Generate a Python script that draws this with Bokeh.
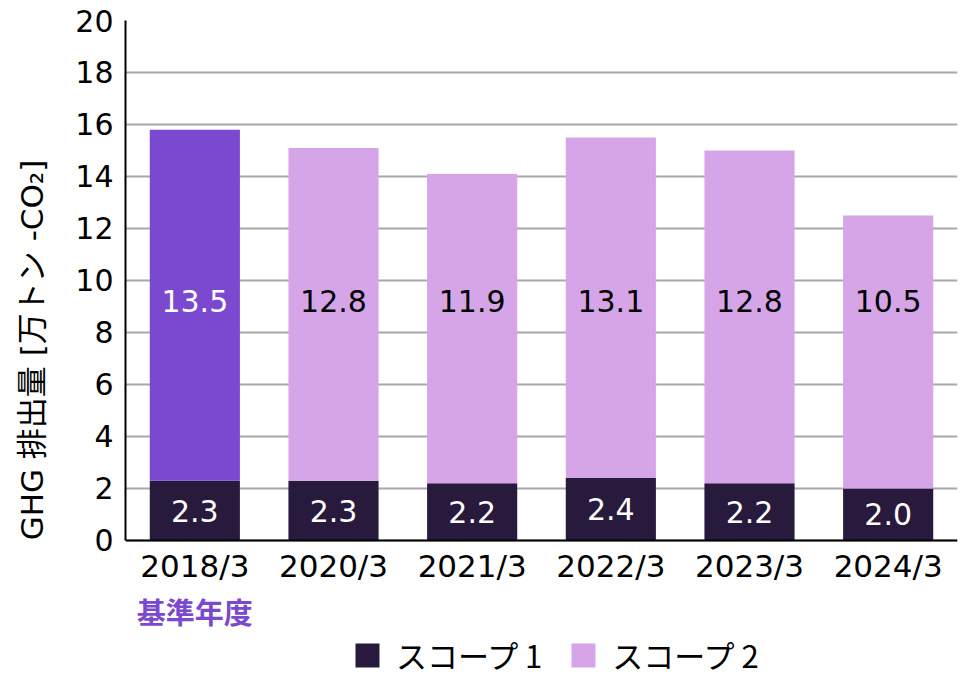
from bokeh.plotting import figure
from bokeh.models import (ColumnDataSource, Legend, LegendItem, FactorRange,
                          Span, FixedTicker)
from bokeh.embed import file_html
from bokeh.resources import INLINE

categories = ["2018/3", "2020/3", "2021/3", "2022/3", "2023/3", "2024/3"]
scope1 = [2.3, 2.3, 2.2, 2.4, 2.2, 2.0]
scope2 = [13.5, 12.8, 11.9, 13.1, 12.8, 10.5]
y_ticks = [0, 2, 4, 6, 8, 10, 12, 14, 16, 18, 20]
base_year = "2018/3"
base_year_note = "基準年度"
series_names = ["スコープ 1", "スコープ 2"]

C_S1 = "#271a3c"
C_BASE = "#7b48d0"
C_S2 = "#d6a5e8"
JP = "Noto Sans CJK JP"
NUM = "DejaVu Sans"
MIX = "DejaVu Sans, Noto Sans CJK JP"

Y_MIN, Y_MAX = -5.35, 20     # frame extends below 0 to hold category labels and legend
CAT_LABEL_Y = -0.97
NOTE_Y = -2.72
S2_LABEL_Y = 9.2

totals = [a + b for a, b in zip(scope1, scope2)]
s2_colors = [C_BASE if c == base_year else C_S2 for c in categories]
s2_text_colors = ["white" if c == base_year else "black" for c in categories]

src = ColumnDataSource(dict(
    cat=categories,
    s1=scope1,
    s2=scope2,
    top=totals,
    zero=[0] * len(categories),
    s1_mid=[v / 2 for v in scope1],
    s2_y=[S2_LABEL_Y] * len(categories),
    cat_y=[CAT_LABEL_Y] * len(categories),
    s1_txt=[f"{v:.1f}" for v in scope1],
    s2_txt=[f"{v:.1f}" for v in scope2],
    s2_col=s2_colors,
    s2_tcol=s2_text_colors,
))
note_src = ColumnDataSource(dict(cat=[base_year], y=[NOTE_Y], txt=[base_year_note]))

p = figure(
    x_range=FactorRange(*categories, range_padding=0),
    y_range=(Y_MIN, Y_MAX),
    width=960, height=679,
    output_backend="svg", toolbar_location=None,
    min_border_left=125, min_border_right=3, min_border_top=20, min_border_bottom=0,
)
p.outline_line_color = None
p.background_fill_color = "white"

r1 = p.vbar(x="cat", bottom="zero", top="s1", width=0.65, source=src,
            fill_color=C_S1, line_color=None)
r2 = p.vbar(x="cat", bottom="s1", top="top", width=0.65, source=src,
            fill_color="s2_col", line_color=None)

# value labels
p.text(x="cat", y="s1_mid", text="s1_txt", source=src, text_color="white",
       text_font={"value": NUM}, text_font_size="30px",
       text_align="center", text_baseline="middle")
p.text(x="cat", y="s2_y", text="s2_txt", source=src, text_color="s2_tcol",
       text_font={"value": NUM}, text_font_size="30px",
       text_align="center", text_baseline="middle")

# category labels (drawn as text so they sit inside the extended frame)
p.text(x="cat", y="cat_y", text="cat", source=src, text_color="black",
       text_font={"value": NUM}, text_font_size="31px",
       text_align="center", text_baseline="middle")
p.text(x="cat", y="y", text="txt", source=note_src, text_color=C_BASE,
       text_font={"value": JP}, text_font_size="29px", text_font_style="bold",
       text_align="center", text_baseline="middle")

# y axis
p.yaxis.ticker = FixedTicker(ticks=y_ticks)
p.yaxis.bounds = (0, 20)
p.yaxis.axis_label = "GHG 排出量 [万トン -CO₂]"
p.yaxis.axis_label_text_font = MIX
p.yaxis.axis_label_text_font_style = "normal"
p.yaxis.axis_label_text_font_size = "31px"
p.yaxis.axis_label_text_color = "black"
p.yaxis.axis_label_standoff = 22
p.yaxis.major_label_text_font = NUM
p.yaxis.major_label_text_font_size = "30px"
p.yaxis.major_label_text_color = "black"
p.yaxis.major_label_standoff = 12
p.yaxis.major_tick_line_color = None
p.yaxis.major_tick_out = 0
p.yaxis.major_tick_in = 0
p.yaxis.minor_tick_line_color = None
p.yaxis.axis_line_color = "black"
p.yaxis.axis_line_width = 2

p.xaxis.visible = False
p.xgrid.grid_line_color = None
p.ygrid.grid_line_color = "#a8a8a8"
p.ygrid.grid_line_width = 2

# x axis baseline
p.add_layout(Span(location=0, dimension="width", line_color="black", line_width=2))

legend = Legend(items=[
    LegendItem(label=series_names[0], renderers=[r1]),
    LegendItem(label=series_names[1], renderers=[r2], index=1),
], orientation="horizontal", location=(227, 2),
    label_text_font=JP, label_text_font_size="31px", label_text_color="black",
    glyph_width=30, glyph_height=30, label_height=30, label_standoff=14,
    spacing=26, padding=0, margin=0,
    border_line_color=None, background_fill_alpha=0)
p.add_layout(legend, "center")

open("out.html", "w").write(file_html(p, INLINE))
